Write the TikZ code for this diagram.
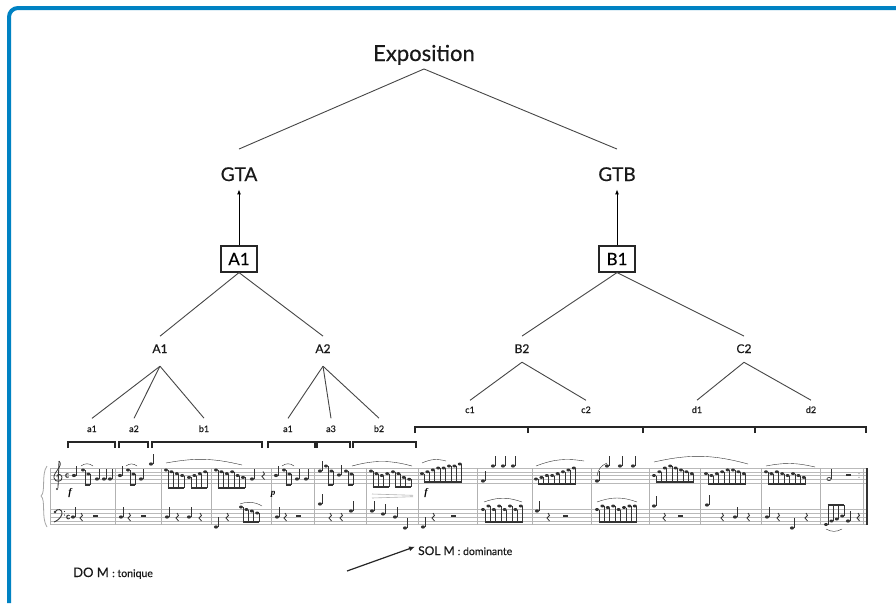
\documentclass[tikz,border=0pt]{standalone}
\usepackage{fontspec}
\setmainfont{Lato}[FakeBold=0.35]
\newfontfamily\dynfont{Liberation Serif}
\usetikzlibrary{arrows.meta}
\definecolor{frameblue}{RGB}{0,130,195}
\definecolor{inkgray}{RGB}{70,70,70}
\newcommand{\qnote}[2]{\fill (#1,#2) ellipse [x radius=2.1pt, y radius=1.6pt]; \draw[line width=0.45pt] (#1+1.8,#2) -- (#1+1.8,#2-10);}
\newcommand{\hnote}[2]{\draw[line width=0.6pt] (#1,#2) ellipse [x radius=2.1pt, y radius=1.6pt]; \draw[line width=0.45pt] (#1+2,#2) -- (#1+2,#2-10);}
\newcommand{\beamgrp}[4]{%
  \foreach \ny [count=\ni from 0] in {#4} {%
    \fill (#1+5.4*\ni,\ny) ellipse [x radius=2pt, y radius=1.5pt];
    \draw[line width=0.4pt] (#1+5.4*\ni+1.7,\ny) -- (#1+5.4*\ni+1.7,#2);}
  \draw[line width=1.1pt] (#1+1.7,#2) -- ({#1+1.7+5.4*(#3-1)},#2);}
\newcommand{\qrest}[2]{\draw[line width=0.8pt] (#1,#2-4) -- (#1+1.5,#2-1.5) -- (#1-1,#2+1) -- (#1+1.5,#2+4);}
\newcommand{\hrest}[2]{\fill (#1-2.5,#2-1.8) rectangle (#1+2.5,#2);}
\begin{document}
\begin{tikzpicture}[x=1pt, y=-1pt,
  lbl/.style={inner sep=0pt, anchor=base, text=black!90},
  branch/.style={draw=inkgray, line width=0.9pt},
  brk/.style={draw=black!85, line width=1.2pt},
  staff/.style={draw=gray!55, line width=0.5pt}]
  \useasboundingbox (0,0) rectangle (896,603);
  \fill[white] (0,0) rectangle (896,603);
  \draw[frameblue, line width=4pt, rounded corners=9pt] (896,8) -- (9,8) -- (9,603);

  \node[lbl, font=\fontsize{22}{24}\selectfont] (expo) at (424,61) {Exposition};
  \node[lbl, font=\fontsize{19}{21}\selectfont] (gta) at (239,181) {GTA};
  \node[lbl, font=\fontsize{19}{21}\selectfont] (gtb) at (617,181) {GTB};
  \node[draw=black!85, line width=1.2pt, minimum width=36pt, minimum height=26pt, inner sep=0pt,
        font=\fontsize{17}{18}\selectfont] (boxa) at (239,259) {A1};
  \node[draw=black!85, line width=1.2pt, minimum width=36pt, minimum height=26pt, inner sep=0pt,
        font=\fontsize{17}{18}\selectfont] (boxb) at (617,259) {B1};
  \node[lbl, font=\fontsize{12}{13}\selectfont] (ma1) at (160,353) {A1};
  \node[lbl, font=\fontsize{12}{13}\selectfont] (ma2) at (323,353) {A2};
  \node[lbl, font=\fontsize{12}{13}\selectfont] (mb2) at (522,353) {B2};
  \node[lbl, font=\fontsize{12}{13}\selectfont] (mc2) at (744,353) {C2};
  \node[lbl, font=\fontsize{9}{10}\selectfont] (la1) at (92,432) {a1};
  \node[lbl, font=\fontsize{9}{10}\selectfont] (la2) at (134,432) {a2};
  \node[lbl, font=\fontsize{9}{10}\selectfont] (lb1) at (204,432) {b1};
  \node[lbl, font=\fontsize{9}{10}\selectfont] (lc1) at (288,432) {a1};
  \node[lbl, font=\fontsize{9}{10}\selectfont] (la3) at (331,432) {a3};
  \node[lbl, font=\fontsize{9}{10}\selectfont] (lb2) at (379,432) {b2};
  \node[lbl, font=\fontsize{9}{10}\selectfont] (lcc1) at (470,413) {c1};
  \node[lbl, font=\fontsize{9}{10}\selectfont] (lcc2) at (586,413) {c2};
  \node[lbl, font=\fontsize{9}{10}\selectfont] (ld1) at (697,413) {d1};
  \node[lbl, font=\fontsize{9}{10}\selectfont] (ld2) at (811,413) {d2};

  \draw[branch] ([yshift=-4pt]expo.south) -- ([yshift=18pt]gta.north);
  \draw[branch] ([yshift=-4pt]expo.south) -- ([yshift=18pt]gtb.north);
  \draw[line width=1pt, -{Latex[length=5pt, width=4pt]}] (boxa.north) -- ([yshift=-8pt]gta.south);
  \draw[line width=1pt, -{Latex[length=5pt, width=4pt]}] (boxb.north) -- ([yshift=-8pt]gtb.south);
  \draw[branch] (boxa.south) -- ([yshift=8pt]ma1.north);
  \draw[branch] (boxa.south) -- ([yshift=8pt]ma2.north);
  \draw[branch] (boxb.south) -- ([yshift=8pt]mb2.north);
  \draw[branch] (boxb.south) -- ([yshift=8pt]mc2.north);
  \foreach \kid in {la1,la2,lb1} \draw[branch] ([yshift=-13pt]ma1.south) -- ([yshift=7pt]\kid.north);
  \foreach \kid in {lc1,la3,lb2} \draw[branch] ([yshift=-13pt]ma2.south) -- ([yshift=7pt]\kid.north);
  \foreach \kid in {lcc1,lcc2} \draw[branch] ([yshift=-9pt]mb2.south) -- ([yshift=6pt]\kid.north);
  \foreach \kid in {ld1,ld2} \draw[branch] ([yshift=-9pt]mc2.south) -- ([yshift=6pt]\kid.north);

  \foreach \xa/\xb in {68/115,119/148,152/262,268/315,317/350,353/416}
    \draw[brk] (\xa,448) -- (\xa,442) -- (\xb,442) -- (\xb,448);
  \foreach \xa/\xb in {415/528,528/643,643/755,755/866}
    \draw[brk] (\xa,433) -- (\xa,427) -- (\xb,427) -- (\xb,433);

  \foreach \yy in {468,471.75,475.5,479.25,483,509.5,513.25,517,520.75,524.5}
    \draw[staff] (50,\yy) -- (868,\yy);
  \foreach \xx in {50,115,161,211,271,314,366,418,477,532,591,649,700,761,820,863}
    \draw[gray!60, line width=0.6pt] (\xx,468) -- (\xx,524.5);
  \draw[black!80, line width=2pt] (867,468) -- (867,524.5);
  \foreach \yy in {473.6,477.4,515.1,518.9} \fill[gray!70] (859,\yy) circle (0.8pt);
  \draw[gray!70, line width=0.8pt] (47,466) .. controls (41,474) and (46,492) .. (41,496)
    .. controls (46,500) and (41,518) .. (47,527);

  \begin{scope}[black!80]
  \draw[line width=0.8pt] (59,461) -- (58,488);
  \draw[line width=0.8pt] (59,461) .. controls (64,466) and (53,472) .. (54,478)
    .. controls (55,483) and (63,482) .. (62,477) .. controls (61,473) and (56,474) .. (57,477);
  \fill (57,489) circle (1.2pt);
  \fill (55,512) circle (1.3pt);
  \draw[line width=0.9pt] (55,512) .. controls (57,508) and (63,509) .. (62,514) .. controls (61,518) and (57,521) .. (54,522);
  \fill (64.5,511.5) circle (0.7pt); \fill (64.5,515) circle (0.7pt);
  \node[font=\fontsize{8}{8}\selectfont\bfseries, inner sep=0pt] (csig) at (67,475.5) {c};
  \node[font=\fontsize{8}{8}\selectfont\bfseries, inner sep=0pt] (csigb) at (68,517) {c};

  \qnote{74}{475.5} \beamgrp{83}{485}{2}{470,474} \qnote{97}{479} \qnote{104}{479} \qnote{110}{479}
  \draw[line width=0.4pt] (81,466) to[bend left=40] (93,466);
  \qnote{120}{475.5} \beamgrp{128}{485}{2}{470,474} \qnote{141}{479} \qnote{151}{464}
  \draw[line width=0.4pt] (126,466) to[bend left=40] (137,466);
  \beamgrp{166}{488}{4}{470,471.75,473.6,475.5} \beamgrp{189}{488}{4}{477.4,475.5,473.6,471.75}
  \beamgrp{216}{488}{6}{470,471.75,473.6,471.75,475.5,477.4} \qnote{252}{479} \qrest{263}{475.5}
  \draw[line width=0.4pt] (166,463) to[bend left=12] (242,465);
  \qnote{276}{475.5} \beamgrp{284}{485}{2}{470,474} \qnote{297}{479} \qnote{306}{479}
  \draw[line width=0.4pt] (282,466) to[bend left=40] (294,466);
  \qnote{320}{471} \beamgrp{326}{485}{2}{466,471} \qnote{339}{475} \beamgrp{346}{485}{2}{471,474}
  \beamgrp{371}{487}{4}{471,473.6,475.5,473.6} \beamgrp{393}{487}{4}{471.75,473.6,477.4,479.25}
  \draw[line width=0.4pt] (352,466) to[bend left=15] (412,466);
  \beamgrp{422}{482}{8}{473.6,471.75,469.9,468,468,466,466,464}
  \draw[line width=0.4pt] (422,463) to[bend left=20] (446,461);
  \qnote{483}{481} \qnote{493}{466} \qnote{503}{466} \qnote{513}{466}
  \beamgrp{536}{484}{8}{479,477.4,475.5,475.5,473.6,471.75,470,468}
  \draw[line width=0.4pt] (536,466) to[bend left=15] (584,461);
  \qnote{597}{481} \qnote{607}{466} \qnote{620}{466} \qnote{633}{466}
  \draw[line width=0.4pt] (597,476) to[bend left=30] (607,463);
  \beamgrp{654}{482}{8}{475.5,471.75,468,466,468,470,471.75,473.6}
  \beamgrp{706}{484}{8}{473.6,475.5,473.6,471.75,469.9,470,471.75,473.6}
  \draw[line width=0.4pt] (654,462) to[bend left=14] (748,464);
  \beamgrp{766}{484}{8}{471.75,473.6,471.75,473.6,475.5,473.6,475.5,477.4}
  \draw[line width=0.4pt] (766,466) to[bend left=12] (815,467);
  \hnote{829}{479} \hrest{848}{475.5}

  \qnote{73}{517} \qrest{81}{517} \hrest{95}{517}
  \qnote{121}{517} \qrest{129}{517} \hrest{143}{517}
  \qnote{167}{517} \qrest{177}{517} \qnote{189}{517} \qrest{200}{517}
  \qnote{216}{527} \qrest{227}{517} \beamgrp{241}{522}{4}{507,509.5,511,513}
  \draw[line width=0.4pt] (240,504) to[bend left=25] (262,506);
  \qnote{277}{517} \qrest{285}{517} \hrest{298}{517}
  \qnote{320}{504} \qrest{330}{517} \qrest{341}{517} \qnote{351}{511}
  \qnote{372}{511} \qnote{383}{514} \qnote{395}{517} \qnote{405}{528}
  \qnote{423}{527} \qrest{433}{517} \hrest{453}{517}
  \beamgrp{483}{522}{8}{509.5,506,509.5,506,509.5,506,509.5,506}
  \draw[line width=0.4pt] (484,502) to[bend left=20] (522,502);
  \qnote{537}{511} \qrest{548}{517} \hrest{565}{517}
  \beamgrp{597}{522}{8}{509.5,506,507.5,506,509.5,507.5,506,506}
  \draw[line width=0.4pt] (597,502) to[bend left=20] (637,502);
  \qnote{654}{506} \qrest{664}{517} \hrest{680}{517}
  \qnote{707}{505} \qrest{722}{517} \qnote{735}{517} \qrest{748}{517}
  \qnote{767}{517} \qrest{778}{517} \qnote{792}{528} \qrest{806}{517}
  \beamgrp{826}{505}{4}{524.5,521,519,516} \qnote{848}{521} \qrest{858}{517}
  \draw[line width=0.4pt] (826,529) to[bend right=30] (842,529);
  \end{scope}

  \node[font=\dynfont\bfseries\itshape\fontsize{10}{10}\selectfont, inner sep=0pt] (dyn1) at (70,493) {f};
  \node[font=\dynfont\bfseries\itshape\fontsize{9}{9}\selectfont, inner sep=0pt] (dyn2) at (273,494) {p};
  \node[font=\dynfont\bfseries\itshape\fontsize{10}{10}\selectfont, inner sep=0pt] (dyn3) at (426,493) {f};
  \draw[gray!60, line width=0.6pt] (372,494) -- (413,495.3) (372,498) -- (413,496.7);

  \node[lbl, anchor=base west, font=\fontsize{13}{14}\selectfont] (tonic) at (73,577)
    {DO M \fontsize{10.5}{12}\selectfont: tonique};
  \node[lbl, anchor=base west, font=\fontsize{12}{13}\selectfont] (domin) at (418,555)
    {SOL M \fontsize{10.5}{12}\selectfont: dominante};
  \coordinate (modstart) at (347,571);
  \draw[line width=1.2pt, black!85, -{Latex[length=6pt, width=5pt]}] (modstart) -- ([xshift=-3pt, yshift=4pt]domin.west);
\end{tikzpicture}
\end{document}
